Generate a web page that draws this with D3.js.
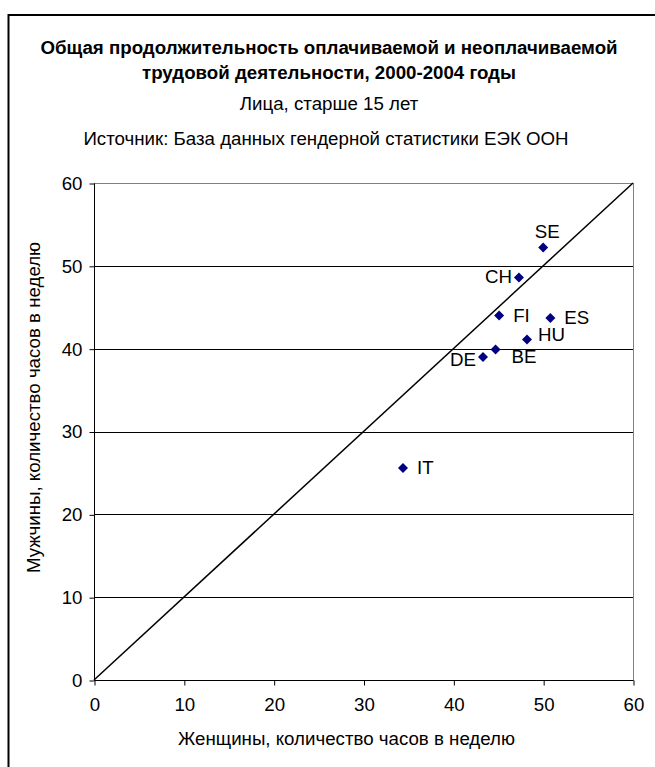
<!DOCTYPE html>
<html>
<head>
<meta charset="utf-8">
<script src="https://cdn.jsdelivr.net/npm/d3@7"></script>
<style>
  body { margin: 0; background: #fff; }
  svg text { font-family: "Liberation Sans", Arial, sans-serif; fill: #000; }
</style>
</head>
<body>
<div id="chart-area"></div>
<script>
// country codes, women hours (x), men hours (y)
const countries = ["SE", "CH", "FI", "ES", "HU", "BE", "DE", "IT"];
const womenHours = [50.0, 47.3, 45.1, 50.8, 48.2, 44.7, 43.3, 34.4];
const menHours   = [52.2, 48.6, 44.0, 43.7, 41.1, 39.9, 39.0, 25.6];
const xTicks = [0, 10, 20, 30, 40, 50, 60];
const yTicks = [0, 10, 20, 30, 40, 50, 60];

const titleLines = [
  "Общая продолжительность оплачиваемой и неоплачиваемой",
  "трудовой деятельности, 2000-2004 годы"
];
const subtitle = "Лица, старше 15 лет";
const sourceText = "Источник:  База данных гендерной статистики ЕЭК ООН";
const xTitle = "Женщины, количество часов в неделю";
const yTitle = "Мужчины, количество часов в неделю";

// where each point label sits relative to its marker
const labelSide = { SE: "top", CH: "left", FI: "right", ES: "right", HU: "upright", BE: "downright", DE: "downleft", IT: "right" };

const chart = {
  totalWidth: 655,
  totalHeight: 767,
  left: 94,
  top: 183,
  width: 539,
  height: 497,
  fontSize: "18.7px",

  setup: function() {
    this.svg = d3.select("#chart-area")
      .append("svg")
        .attr("width", this.totalWidth)
        .attr("height", this.totalHeight);

    // outer chart border (runs off the right and bottom of the picture)
    this.svg.append("rect")
      .attr("x", 8.5)
      .attr("y", 15)
      .attr("width", 700)
      .attr("height", 800)
      .attr("fill", "none")
      .attr("stroke", "#000")
      .attr("stroke-width", 2);

    this.svg.selectAll("text.title")
      .data(titleLines)
      .enter().append("text")
        .attr("class", "title")
        .attr("x", 329)
        .attr("y", (d, i) => 54 + i * 25)
        .attr("text-anchor", "middle")
        .attr("font-size", this.fontSize)
        .attr("font-weight", "bold")
        .text(d => d);

    this.svg.append("text")
      .attr("x", 329)
      .attr("y", 110)
      .attr("text-anchor", "middle")
      .attr("font-size", this.fontSize)
      .text(subtitle);

    this.svg.append("text")
      .attr("x", 326)
      .attr("y", 145)
      .attr("text-anchor", "middle")
      .attr("font-size", this.fontSize)
      .text(sourceText);

    this.g = this.svg.append("g")
      .attr("transform", "translate(" + this.left + "," + this.top + ")");
  },

  setupScales: function() {
    this.x = d3.scaleLinear().domain([0, 60]).range([0, this.width]);
    this.y = d3.scaleLinear().domain([0, 60]).range([this.height, 0]);
  },

  addGrid: function() {
    this.g.append("g")
      .selectAll("line")
      .data(yTicks.filter(d => d > 0 && d < 60))
      .enter().append("line")
        .attr("x1", 0)
        .attr("x2", this.width)
        .attr("y1", d => Math.round(this.y(d)) + 0.5)
        .attr("y2", d => Math.round(this.y(d)) + 0.5)
        .attr("stroke", "#000");

    this.g.append("rect")
      .attr("x", 0.5)
      .attr("y", 0.5)
      .attr("width", this.width)
      .attr("height", this.height)
      .attr("fill", "none")
      .attr("stroke", "#808080");
  },

  addAxes: function() {
    const xAxis = d3.axisBottom(this.x).tickValues(xTicks).tickSize(5).tickPadding(12);
    const yAxis = d3.axisLeft(this.y).tickValues(yTicks).tickSize(5).tickPadding(7);

    const gx = this.g.append("g")
      .attr("transform", "translate(0.5," + (this.height + 0.5) + ")")
      .call(xAxis);
    const gy = this.g.append("g")
      .attr("transform", "translate(0.5,0.5)")
      .call(yAxis);

    [gx, gy].forEach(a => {
      a.select(".domain").attr("stroke", "#000");
      a.selectAll(".tick line").attr("stroke", "#000");
      a.selectAll(".tick text")
        .attr("font-family", "Liberation Sans, Arial, sans-serif")
        .attr("font-size", this.fontSize)
        .attr("fill", "#000");
    });
    gx.select(".domain").attr("d", "M0,0H" + this.width);
    gy.select(".domain").attr("d", "M0," + this.height + "V0");

    this.svg.append("text")
      .attr("x", this.left + this.width / 2 - 17)
      .attr("y", 745)
      .attr("text-anchor", "middle")
      .attr("font-size", this.fontSize)
      .text(xTitle);

    this.svg.append("text")
      .attr("transform", "translate(40," + (this.top + this.height / 2 - 24) + ") rotate(-90)")
      .attr("text-anchor", "middle")
      .attr("font-size", this.fontSize)
      .text(yTitle);
  },

  addPoints: function() {
    const data = countries.map((c, i) => ({ code: c, women: womenHours[i], men: menHours[i] }));

    // 1:1 line
    this.g.append("line")
      .attr("x1", this.x(0))
      .attr("y1", this.y(0))
      .attr("x2", this.x(60))
      .attr("y2", this.y(60))
      .attr("stroke", "#000")
      .attr("stroke-width", 1.5);

    const diamond = d3.symbol().type(d3.symbolSquare).size(50);

    this.g.selectAll("path.point")
      .data(data)
      .enter().append("path")
        .attr("class", "point")
        .attr("d", diamond)
        .attr("fill", "#000080")
        .attr("transform", d => "translate(" + this.x(d.women) + "," + this.y(d.men) + ") rotate(45)");

    const offsets = {
      top:       { dx: 4,   dy: -10, anchor: "middle" },
      left:      { dx: -7,  dy: 6,   anchor: "end" },
      right:     { dx: 14,  dy: 6,   anchor: "start" },
      upright:   { dx: 11,  dy: 1,   anchor: "start" },
      downright: { dx: 16,  dy: 14,  anchor: "start" },
      downleft:  { dx: -7,  dy: 9,   anchor: "end" }
    };

    this.g.selectAll("text.label")
      .data(data)
      .enter().append("text")
        .attr("class", "label")
        .attr("x", d => this.x(d.women) + offsets[labelSide[d.code]].dx)
        .attr("y", d => this.y(d.men) + offsets[labelSide[d.code]].dy)
        .attr("text-anchor", d => offsets[labelSide[d.code]].anchor)
        .attr("font-size", this.fontSize)
        .text(d => d.code);
  },

  start: function() {
    this.setup();
    this.setupScales();
    this.addGrid();
    this.addAxes();
    this.addPoints();
  }
};

chart.start();
</script>
</body>
</html>
